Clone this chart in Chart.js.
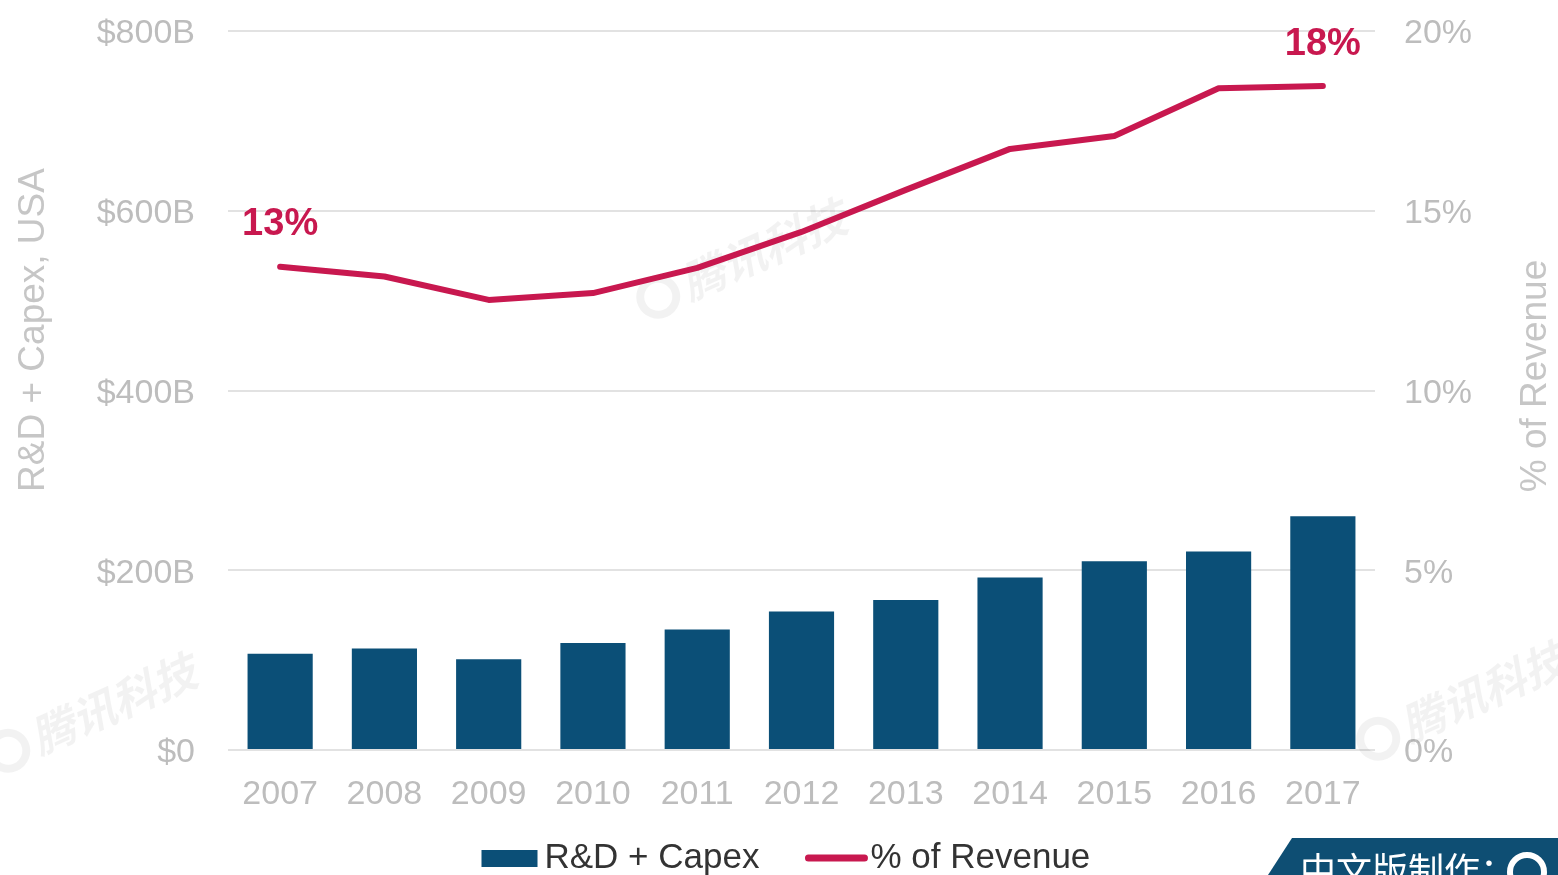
<!DOCTYPE html>
<html>
<head>
<meta charset="utf-8">
<script src="https://cdn.jsdelivr.net/npm/chart.js@4/dist/chart.umd.min.js"></script>
<style>
  html, body { margin: 0; padding: 0; background: #fff; }
  #wrap { width: 1558px; height: 875px; }
</style>
</head>
<body>
<div id="wrap"><canvas id="chart" width="1558" height="875"></canvas></div>
<script>
// data
const years = ['2007', '2008', '2009', '2010', '2011', '2012', '2013', '2014', '2015', '2016', '2017'];
const spend = [107, 113, 101, 119, 134, 154, 167, 192, 210, 221, 260];          // $B
const pctRevenue = [13.44, 13.17, 12.52, 12.71, 13.41, 14.41, 15.58, 16.72, 17.08, 18.41, 18.47];
const leftTicks = ['$0', '$200B', '$400B', '$600B', '$800B'];
const rightTicks = ['0%', '5%', '10%', '15%', '20%'];
const endLabels = ['13%', '18%'];

const barColor = '#0b4f77';
const lineColor = '#c8184f';
const tickColor = '#bdbdbd';
const font = '"Liberation Sans", Arial, sans-serif';

// watermark under the bars
const watermark = {
    id: 'watermark',
    beforeDatasetsDraw(chart) {
        const ctx = chart.ctx;
        const spots = [[95, 712], [745, 258], [1465, 700]];
        ctx.save();
        ctx.fillStyle = 'rgba(0,0,0,0.05)';
        ctx.strokeStyle = 'rgba(0,0,0,0.05)';
        ctx.font = 'italic bold 44px "Noto Sans CJK SC"';
        ctx.textAlign = 'center';
        ctx.textBaseline = 'middle';
        spots.forEach(([x, y]) => {
            ctx.save();
            ctx.translate(x, y);
            ctx.rotate(-0.42);
            ctx.fillText('腾讯科技', 20, 0);
            ctx.lineWidth = 8;
            ctx.beginPath();
            ctx.arc(-95, 0, 18, 0, Math.PI * 2);
            ctx.stroke();
            ctx.restore();
        });
        ctx.restore();
    }
};

// titles, end labels, legend, badge
const extras = {
    id: 'extras',
    afterDraw(chart) {
        const ctx = chart.ctx;
        const area = chart.chartArea;
        ctx.save();

        // axis titles
        ctx.fillStyle = '#c6c6c6';
        ctx.font = '37px ' + font;
        ctx.textAlign = 'center';
        ctx.textBaseline = 'middle';
        ctx.save();
        ctx.translate(34, 330);
        ctx.rotate(-Math.PI / 2);
        ctx.fillText('R&D + Capex, USA', 0, 0);
        ctx.restore();
        ctx.save();
        ctx.translate(1536, 376);
        ctx.rotate(-Math.PI / 2);
        ctx.fillText('% of Revenue', 0, 0);
        ctx.restore();

        // first / last value labels on the line
        const pts = chart.getDatasetMeta(1).data;
        ctx.fillStyle = lineColor;
        ctx.font = 'bold 38px ' + font;
        ctx.fillText(endLabels[0], pts[0].x, pts[0].y - 42);
        ctx.fillText(endLabels[1], pts[pts.length - 1].x, pts[pts.length - 1].y - 41);

        // legend
        const ly = 858;
        let x = (area.left + area.right) / 2 - 320;
        ctx.font = '35px ' + font;
        ctx.textAlign = 'left';
        ctx.fillStyle = barColor;
        ctx.fillRect(x, ly - 8, 56, 17);
        x += 63;
        ctx.fillStyle = '#333';
        ctx.fillText(chart.data.datasets[0].label, x, ly);
        x += ctx.measureText(chart.data.datasets[0].label).width + 49;
        ctx.strokeStyle = lineColor;
        ctx.lineWidth = 7;
        ctx.lineCap = 'round';
        ctx.beginPath();
        ctx.moveTo(x, ly);
        ctx.lineTo(x + 56, ly);
        ctx.stroke();
        x += 62;
        ctx.fillText(chart.data.datasets[1].label, x, ly);

        // badge bottom right
        ctx.fillStyle = '#0e4e73';
        ctx.beginPath();
        ctx.moveTo(1292, 838);
        ctx.lineTo(1558, 838);
        ctx.lineTo(1558, 875);
        ctx.lineTo(1268, 875);
        ctx.closePath();
        ctx.fill();
        ctx.fillStyle = '#fff';
        ctx.font = '36px "Noto Sans CJK SC"';
        ctx.textBaseline = 'top';
        ctx.fillText('中文版制作：', 1300, 852);
        ctx.strokeStyle = '#fff';
        ctx.lineWidth = 6;
        ctx.beginPath();
        ctx.arc(1527, 872, 17, 0, Math.PI * 2);
        ctx.stroke();
        ctx.restore();
    }
};

// fixed axis widths, and no extra top/bottom padding from tick labels
function fitY(width) {
    return function(scale) {
        scale.width = width;
        scale.paddingTop = 0;
        scale.paddingBottom = 0;
    };
}

new Chart(document.getElementById('chart'), {
    data: {
        labels: years,
        datasets: [{
            type: 'bar',
            label: 'R&D + Capex',
            data: spend,
            yAxisID: 'y',
            backgroundColor: barColor,
            barPercentage: 0.625,
            categoryPercentage: 1,
            order: 2
        }, {
            type: 'line',
            label: '% of Revenue',
            data: pctRevenue,
            yAxisID: 'y1',
            borderColor: lineColor,
            borderWidth: 6,
            borderCapStyle: 'round',
            borderJoinStyle: 'round',
            pointRadius: 0,
            tension: 0,
            order: 1
        }]
    },
    options: {
        responsive: false,
        animation: false,
        layout: { padding: { top: 31, left: 0, right: 0, bottom: 0 } },
        plugins: {
            legend: { display: false },
            tooltip: { enabled: false }
        },
        scales: {
            x: {
                grid: { display: false },
                border: { display: false },
                ticks: { color: tickColor, font: { family: font, size: 34 }, padding: 16, maxRotation: 0 },
                afterFit(scale) {
                    scale.height = 125;
                    scale.paddingLeft = 0;
                    scale.paddingRight = 0;
                }
            },
            y: {
                position: 'left',
                min: 0,
                max: 800,
                grid: { color: '#e2e2e2', lineWidth: 2, drawTicks: false },
                border: { display: false },
                ticks: {
                    stepSize: 200,
                    color: tickColor,
                    font: { family: font, size: 34 },
                    padding: 33,
                    labelOffset: 3,
                    callback: (v, i) => leftTicks[i]
                },
                afterFit: fitY(228)
            },
            y1: {
                position: 'right',
                min: 0,
                max: 20,
                grid: { display: false, drawTicks: false },
                border: { display: false },
                ticks: {
                    stepSize: 5,
                    color: tickColor,
                    font: { family: font, size: 34 },
                    padding: 29,
                    labelOffset: 3,
                    callback: (v, i) => rightTicks[i]
                },
                afterFit: fitY(183)
            }
        }
    },
    plugins: [watermark, extras]
});
</script>
</body>
</html>
